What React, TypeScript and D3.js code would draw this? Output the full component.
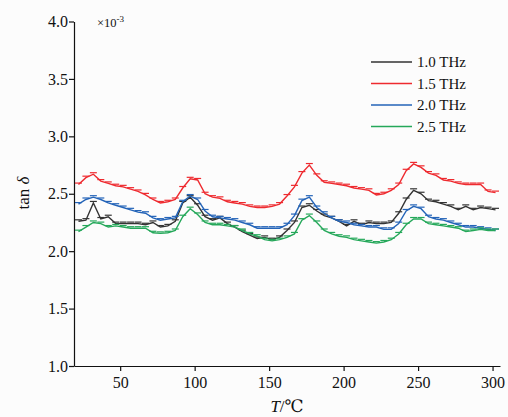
import React, { useEffect, useRef } from "react";
import * as d3 from "d3";

// temperature grid (°C), every 5 degrees
const temps = [
  22, 27, 32, 37, 42, 47, 52, 57, 62, 67, 72, 77, 82, 87, 92, 97, 102, 107, 112, 117,
  122, 127, 132, 137, 142, 147, 152, 157, 162, 167, 172, 177, 182, 187, 192, 197, 202,
  207, 212, 217, 222, 227, 232, 237, 242, 247, 252, 257, 262, 267, 272, 277, 282, 287,
  292, 297, 302,
];

// tan δ ×10^-3
const thz10 = [
  2.26, 2.27, 2.42, 2.28, 2.3, 2.24, 2.24, 2.24, 2.24, 2.23, 2.25, 2.21, 2.22, 2.26, 2.42,
  2.47, 2.4, 2.3, 2.27, 2.29, 2.24, 2.21, 2.17, 2.14, 2.11, 2.12, 2.1, 2.12, 2.18, 2.25,
  2.38, 2.4, 2.35, 2.31, 2.29, 2.26, 2.22, 2.26, 2.23, 2.25, 2.24, 2.24, 2.25, 2.33, 2.45,
  2.53, 2.5, 2.44, 2.43, 2.41, 2.39, 2.36, 2.39, 2.36, 2.38, 2.37, 2.36,
];
const thz15 = [
  2.58, 2.64, 2.67, 2.61, 2.59, 2.57, 2.56, 2.54, 2.52, 2.49, 2.45, 2.42, 2.43, 2.45, 2.55,
  2.63, 2.62, 2.5, 2.47, 2.46, 2.43, 2.42, 2.41, 2.39, 2.38, 2.38, 2.39, 2.41, 2.48, 2.56,
  2.68, 2.75, 2.66, 2.6, 2.59, 2.58, 2.57, 2.55, 2.54, 2.53, 2.49, 2.5, 2.53, 2.58, 2.7,
  2.76, 2.73, 2.68, 2.66, 2.62, 2.61, 2.59, 2.58, 2.58, 2.58, 2.52, 2.51,
];
const thz20 = [
  2.41, 2.45, 2.47, 2.45, 2.42, 2.4, 2.38, 2.36, 2.34, 2.33, 2.29, 2.27, 2.28, 2.29, 2.43,
  2.48, 2.45, 2.35, 2.3, 2.29, 2.28, 2.27, 2.25, 2.23, 2.2, 2.2, 2.2, 2.2, 2.23, 2.31,
  2.44, 2.47, 2.38, 2.33, 2.29, 2.26, 2.25, 2.23, 2.22, 2.21, 2.21, 2.19, 2.19, 2.24, 2.35,
  2.39, 2.37, 2.3, 2.28, 2.27, 2.25, 2.23, 2.21, 2.21, 2.2, 2.19, 2.18,
];
const thz25 = [
  2.17, 2.21, 2.25, 2.24, 2.21, 2.22, 2.21, 2.2, 2.2, 2.2, 2.16, 2.155, 2.16, 2.18, 2.3,
  2.37, 2.32, 2.25, 2.23, 2.23, 2.22, 2.21, 2.18, 2.15, 2.13, 2.1, 2.09, 2.1, 2.12, 2.15,
  2.27, 2.31, 2.25, 2.18, 2.15, 2.13, 2.12, 2.1, 2.09, 2.08, 2.07, 2.08, 2.1, 2.15, 2.23,
  2.28, 2.28, 2.24, 2.23, 2.22, 2.21, 2.2, 2.17, 2.18, 2.19, 2.18, 2.18,
];

const seriesNames = ["1.0 THz", "1.5 THz", "2.0 THz", "2.5 THz"];
const seriesColors = ["#333333", "#ee2a2f", "#2464b8", "#25a85a"];
const yTicks = [1.0, 1.5, 2.0, 2.5, 3.0, 3.5, 4.0];
const xTicks = [50, 100, 150, 200, 250, 300];

const FONT = "Liberation Serif, Times New Roman, DejaVu Serif, serif";

export default function App() {
  const ref = useRef<SVGSVGElement | null>(null);

  useEffect(() => {
    const el = ref.current;
    if (!el) return;
    const svg = d3.select(el);
    svg.selectAll("*").remove();

    const x = d3.scaleLinear().domain([19, 305]).range([74, 500]);
    const y = d3.scaleLinear().domain([1, 4]).range([366, 21.5]);

    // axes
    const gx = svg.append("g")
      .attr("transform", `translate(0,${y(1)})`)
      .call(d3.axisBottom(x).tickValues(xTicks).tickSize(5).tickSizeOuter(0).tickFormat(d3.format("d")));
    gx.attr("font-family", null).attr("font-size", null);
    gx.selectAll("text").attr("font-size", 16).attr("fill", "#111").attr("dy", "0.9em");
    gx.selectAll("line, path").attr("stroke", "#111").attr("stroke-width", 1.2);

    const gy = svg.append("g")
      .attr("transform", `translate(${x(19)},0)`)
      .call(d3.axisLeft(y).tickValues(yTicks).tickSize(5).tickSizeOuter(0).tickFormat(d3.format(".1f")));
    gy.attr("font-family", null).attr("font-size", null);
    gy.selectAll("text").attr("font-size", 16).attr("fill", "#111").attr("x", -6);
    gy.selectAll("line, path").attr("stroke", "#111").attr("stroke-width", 1.2);

    // data
    const all = [thz10, thz15, thz20, thz25];
    const line = d3.line<number>()
      .x((_, i) => x(temps[i]))
      .y((d) => y(d));

    all.forEach((vals, si) => {
      const c = seriesColors[si];
      const g = svg.append("g");
      g.append("path")
        .datum(vals)
        .attr("d", line)
        .attr("fill", "none")
        .attr("stroke", c)
        .attr("stroke-width", 1.4);
      // small error caps
      g.selectAll("line.cap")
        .data(vals)
        .join("line")
        .attr("x1", (_, i) => x(temps[i]) - 3.5)
        .attr("x2", (_, i) => x(temps[i]) + 3.5)
        .attr("y1", (d) => y(d) - 1.5)
        .attr("y2", (d) => y(d) - 1.5)
        .attr("stroke", c)
        .attr("stroke-width", 1.2);
    });

    // legend
    const lg = svg.append("g").attr("transform", "translate(371,62)");
    seriesNames.forEach((n, i) => {
      const row = lg.append("g").attr("transform", `translate(0,${i * 21.5})`);
      row.append("line").attr("x1", 0).attr("x2", 41).attr("y1", 0).attr("y2", 0)
        .attr("stroke", seriesColors[i]).attr("stroke-width", 1.4);
      row.append("text").attr("x", 46).attr("y", 5)
        .attr("font-size", 15).attr("fill", "#111").text(n);
    });

    // multiplier
    const m = svg.append("text").attr("x", 97).attr("y", 27)
      .attr("font-size", 12.5).attr("fill", "#111");
    m.append("tspan").text("×10");
    m.append("tspan").attr("dy", -5).attr("font-size", 9).text("-3");

    // axis titles
    const xt = svg.append("text").attr("x", 287).attr("y", 412).attr("text-anchor", "middle")
      .attr("font-size", 17).attr("fill", "#111");
    xt.append("tspan").attr("font-style", "italic").text("T");
    xt.append("tspan").text("/℃");

    const yt = svg.append("text").attr("transform", "translate(29,193) rotate(-90)")
      .attr("text-anchor", "middle").attr("font-size", 17).attr("fill", "#111");
    yt.append("tspan").text("tan ");
    yt.append("tspan").attr("font-style", "italic").text("δ");
  }, []);

  return (
    <svg
      ref={ref}
      width={508}
      height={417}
      style={{ position: "absolute", left: 0, top: 0, background: "#fcfcfc", fontFamily: FONT }}
    />
  );
}
